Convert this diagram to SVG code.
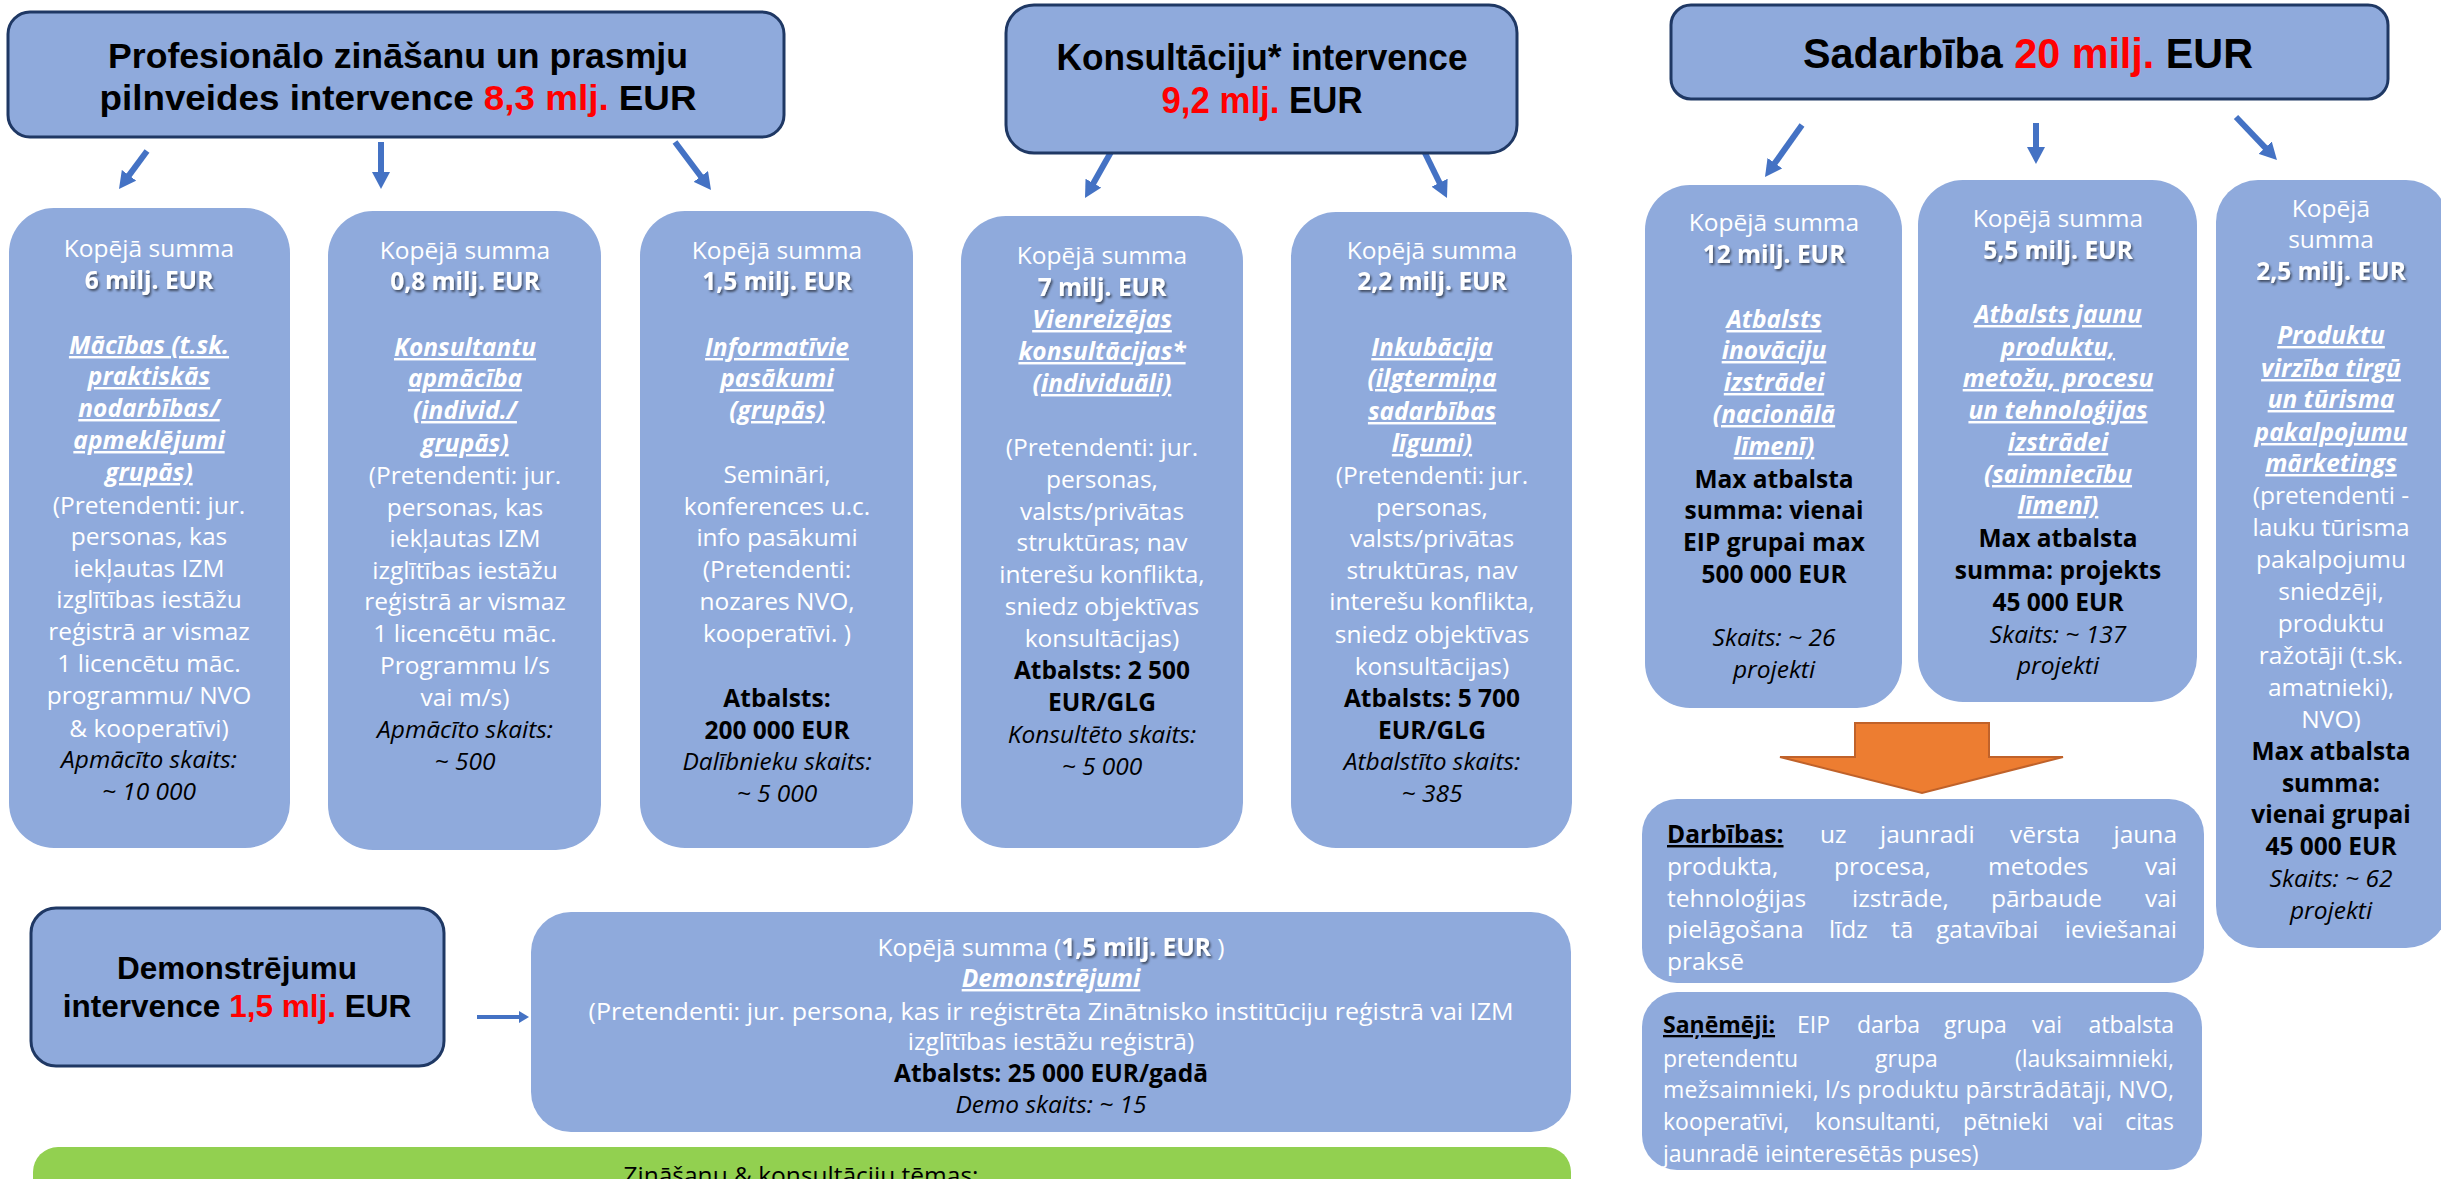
<svg xmlns="http://www.w3.org/2000/svg" width="2441" height="1179" viewBox="0 0 2441 1179">
<style>
.bx{fill:#8FAADC}
.hd{fill:#8FAADC;stroke:#1F3864;stroke-width:3}
.h{font-family:"Liberation Sans",Arial,sans-serif;font-weight:700;fill:#000;text-anchor:middle}
.red{fill:#FF0000}
.t{font-family:"Open Sans","Liberation Sans",sans-serif;font-size:24.5px;fill:#fff;text-anchor:middle}
.a{font-weight:700;filter:url(#sh)}
.u{font-weight:700;font-style:italic;text-decoration:underline}
.b{fill:#000;font-weight:700}
.i{fill:#000;font-style:italic}
.s{text-anchor:start}
.e{text-anchor:end}
.sm{font-size:23px}
.ar{stroke:#4472C4;stroke-width:6;fill:none;marker-end:url(#ah)}
.ar2{stroke:#4472C4;stroke-width:4;fill:none;marker-end:url(#ah2)}
</style>
<defs>
<marker id="ah" viewBox="0 0 17 18" refX="2" refY="9" markerWidth="17" markerHeight="18" markerUnits="userSpaceOnUse" orient="auto"><path d="M0,0 L17,9 L0,18 z" fill="#4472C4"/></marker>
<marker id="ah2" viewBox="0 0 10 12" refX="1" refY="6" markerWidth="10" markerHeight="12" markerUnits="userSpaceOnUse" orient="auto"><path d="M0,0 L10,6 L0,12 z" fill="#4472C4"/></marker>
<filter id="sh" x="-10%" y="-30%" width="130%" height="180%"><feDropShadow dx="1.5" dy="2" stdDeviation="1.2" flood-color="#000" flood-opacity="0.55"/></filter>
</defs>
<rect width="2441" height="1179" fill="#fff"/>

<g id="connectors">
<line class="ar" x1="147" y1="151" x2="127.9" y2="176.9"/>
<line class="ar" x1="381" y1="142" x2="381" y2="174"/>
<line class="ar" x1="675" y1="142" x2="702" y2="178"/>
<line class="ar" x1="1111" y1="152" x2="1092.4" y2="184.9"/>
<line class="ar" x1="1424" y1="151" x2="1440.4" y2="184.5"/>
<line class="ar" x1="1802" y1="125" x2="1773.7" y2="164.8"/>
<line class="ar" x1="2036" y1="123" x2="2036" y2="149"/>
<line class="ar" x1="2236" y1="117" x2="2266.6" y2="149.1"/>
<line class="ar2" x1="477" y1="1017" x2="520" y2="1017"/>
<polygon points="1855,723 1989,723 1989,757 2063,757 1922,793 1780,757 1855,757" fill="#ED7D31" stroke="#C0622A" stroke-width="2"/>
</g>

<g id="h-profesionalo">
<rect class="hd" x="8" y="12" width="776" height="125" rx="22"/>
<text class="h" x="398" y="68" font-size="35" textLength="580" lengthAdjust="spacingAndGlyphs">Profesionālo zināšanu un prasmju</text>
<text class="h" x="398" y="110" font-size="35" textLength="597" lengthAdjust="spacingAndGlyphs">pilnveides intervence <tspan class="red">8,3 mlj.</tspan> EUR</text>
</g>

<g id="h-konsultaciju">
<rect class="hd" x="1006" y="5" width="511" height="148" rx="28"/>
<text class="h" x="1262" y="70" font-size="37" textLength="411" lengthAdjust="spacingAndGlyphs">Konsultāciju* intervence</text>
<text class="h" x="1262" y="113" font-size="37" textLength="201" lengthAdjust="spacingAndGlyphs"><tspan class="red">9,2 mlj.</tspan> EUR</text>
</g>

<g id="h-sadarbiba">
<rect class="hd" x="1671" y="5" width="717" height="94" rx="20"/>
<text class="h" x="2028" y="68" font-size="42" textLength="450" lengthAdjust="spacingAndGlyphs">Sadarbība <tspan class="red">20 milj.</tspan> EUR</text>
</g>

<g id="n-macibas">
<rect class="bx" x="9" y="208" width="281" height="640" rx="45"/>
<text class="t" x="149" y="257">Kopējā summa</text>
<text class="t a" x="149" y="289">6 milj. EUR</text>
<text class="t u" x="149" y="354">Mācības (t.sk.</text>
<text class="t u" x="149" y="385">praktiskās</text>
<text class="t u" x="149" y="417">nodarbības/</text>
<text class="t u" x="149" y="449">apmeklējumi</text>
<text class="t u" x="149" y="481">grupās)</text>
<text class="t" x="149" y="514">(Pretendenti: jur.</text>
<text class="t" x="149" y="545">personas, kas</text>
<text class="t" x="149" y="577">iekļautas IZM</text>
<text class="t" x="149" y="608">izglītības iestāžu</text>
<text class="t" x="149" y="640">reģistrā ar vismaz</text>
<text class="t" x="149" y="672">1 licencētu māc.</text>
<text class="t" x="149" y="704">programmu/ NVO</text>
<text class="t" x="149" y="737">&amp; kooperatīvi)</text>
<text class="t i" x="149" y="768">Apmācīto skaits:</text>
<text class="t i" x="149" y="800">~ 10 000</text>
</g>

<g id="n-konsultantu">
<rect class="bx" x="328" y="211" width="273" height="639" rx="45"/>
<text class="t" x="465" y="259">Kopējā summa</text>
<text class="t a" x="465" y="290">0,8 milj. EUR</text>
<text class="t u" x="465" y="356">Konsultantu</text>
<text class="t u" x="465" y="387">apmācība</text>
<text class="t u" x="465" y="419">(individ./</text>
<text class="t u" x="465" y="452">grupās)</text>
<text class="t" x="465" y="484">(Pretendenti: jur.</text>
<text class="t" x="465" y="516">personas, kas</text>
<text class="t" x="465" y="547">iekļautas IZM</text>
<text class="t" x="465" y="579">izglītības iestāžu</text>
<text class="t" x="465" y="610">reģistrā ar vismaz</text>
<text class="t" x="465" y="642">1 licencētu māc.</text>
<text class="t" x="465" y="674">Programmu l/s</text>
<text class="t" x="465" y="706">vai m/s)</text>
<text class="t i" x="465" y="738">Apmācīto skaits:</text>
<text class="t i" x="465" y="770">~ 500</text>
</g>

<g id="n-informativie">
<rect class="bx" x="640" y="211" width="273" height="637" rx="45"/>
<text class="t" x="777" y="259">Kopējā summa</text>
<text class="t a" x="777" y="290">1,5 milj. EUR</text>
<text class="t u" x="777" y="356">Informatīvie</text>
<text class="t u" x="777" y="387">pasākumi</text>
<text class="t u" x="777" y="419">(grupās)</text>
<text class="t" x="777" y="483">Semināri,</text>
<text class="t" x="777" y="515">konferences u.c.</text>
<text class="t" x="777" y="546">info pasākumi</text>
<text class="t" x="777" y="578">(Pretendenti:</text>
<text class="t" x="777" y="610">nozares NVO,</text>
<text class="t" x="777" y="642">kooperatīvi. )</text>
<text class="t b" x="777" y="707">Atbalsts:</text>
<text class="t b" x="777" y="739">200 000 EUR</text>
<text class="t i" x="777" y="770">Dalībnieku skaits:</text>
<text class="t i" x="777" y="802">~ 5 000</text>
</g>

<g id="n-vienreizejas">
<rect class="bx" x="961" y="216" width="282" height="632" rx="45"/>
<text class="t" x="1102" y="264">Kopējā summa</text>
<text class="t a" x="1102" y="296">7 milj. EUR</text>
<text class="t u" x="1102" y="328">Vienreizējas</text>
<text class="t u" x="1102" y="360">konsultācijas*</text>
<text class="t u" x="1102" y="392">(individuāli)</text>
<text class="t" x="1102" y="456">(Pretendenti: jur.</text>
<text class="t" x="1102" y="488">personas,</text>
<text class="t" x="1102" y="520">valsts/privātas</text>
<text class="t" x="1102" y="551">struktūras; nav</text>
<text class="t" x="1102" y="583">interešu konflikta,</text>
<text class="t" x="1102" y="615">sniedz objektīvas</text>
<text class="t" x="1102" y="647">konsultācijas)</text>
<text class="t b" x="1102" y="679">Atbalsts: 2 500</text>
<text class="t b" x="1102" y="711">EUR/GLG</text>
<text class="t i" x="1102" y="743">Konsultēto skaits:</text>
<text class="t i" x="1102" y="775">~ 5 000</text>
</g>

<g id="n-inkubacija">
<rect class="bx" x="1291" y="212" width="281" height="636" rx="45"/>
<text class="t" x="1432" y="259">Kopējā summa</text>
<text class="t a" x="1432" y="290">2,2 milj. EUR</text>
<text class="t u" x="1432" y="356">Inkubācija</text>
<text class="t u" x="1432" y="387">(ilgtermiņa</text>
<text class="t u" x="1432" y="420">sadarbības</text>
<text class="t u" x="1432" y="452">līgumi)</text>
<text class="t" x="1432" y="484">(Pretendenti: jur.</text>
<text class="t" x="1432" y="516">personas,</text>
<text class="t" x="1432" y="547">valsts/privātas</text>
<text class="t" x="1432" y="579">struktūras, nav</text>
<text class="t" x="1432" y="610">interešu konflikta,</text>
<text class="t" x="1432" y="643">sniedz objektīvas</text>
<text class="t" x="1432" y="675">konsultācijas)</text>
<text class="t b" x="1432" y="707">Atbalsts: 5 700</text>
<text class="t b" x="1432" y="739">EUR/GLG</text>
<text class="t i" x="1432" y="770">Atbalstīto skaits:</text>
<text class="t i" x="1432" y="802">~ 385</text>
</g>

<g id="n-inovacijas">
<rect class="bx" x="1645" y="185" width="257" height="523" rx="45"/>
<text class="t" x="1774" y="231">Kopējā summa</text>
<text class="t a" x="1774" y="263">12 milj. EUR</text>
<text class="t u" x="1774" y="328">Atbalsts</text>
<text class="t u" x="1774" y="359">inovāciju</text>
<text class="t u" x="1774" y="391">izstrādei</text>
<text class="t u" x="1774" y="423">(nacionālā</text>
<text class="t u" x="1774" y="455">līmenī)</text>
<text class="t b" x="1774" y="488">Max atbalsta</text>
<text class="t b" x="1774" y="519">summa: vienai</text>
<text class="t b" x="1774" y="551">EIP grupai max</text>
<text class="t b" x="1774" y="583">500 000 EUR</text>
<text class="t i" x="1774" y="646">Skaits: ~ 26</text>
<text class="t i" x="1774" y="678">projekti</text>
</g>

<g id="n-produkti">
<rect class="bx" x="1918" y="180" width="279" height="522" rx="45"/>
<text class="t" x="2058" y="227">Kopējā summa</text>
<text class="t a" x="2058" y="259">5,5 milj. EUR</text>
<text class="t u" x="2058" y="323">Atbalsts jaunu</text>
<text class="t u" x="2058" y="356">produktu,</text>
<text class="t u" x="2058" y="387">metožu, procesu</text>
<text class="t u" x="2058" y="419">un tehnoloģijas</text>
<text class="t u" x="2058" y="451">izstrādei</text>
<text class="t u" x="2058" y="483">(saimniecību</text>
<text class="t u" x="2058" y="514">līmenī)</text>
<text class="t b" x="2058" y="547">Max atbalsta</text>
<text class="t b" x="2058" y="579">summa: projekts</text>
<text class="t b" x="2058" y="611">45 000 EUR</text>
<text class="t i" x="2058" y="643">Skaits: ~ 137</text>
<text class="t i" x="2058" y="674">projekti</text>
</g>

<g id="n-marketings">
<rect class="bx" x="2216" y="180" width="232" height="768" rx="42"/>
<text class="t" x="2331" y="217">Kopējā</text>
<text class="t" x="2331" y="248">summa</text>
<text class="t a" x="2331" y="280">2,5 milj. EUR</text>
<text class="t u" x="2331" y="344">Produktu</text>
<text class="t u" x="2331" y="377">virzība tirgū</text>
<text class="t u" x="2331" y="408">un tūrisma</text>
<text class="t u" x="2331" y="441">pakalpojumu</text>
<text class="t u" x="2331" y="472">mārketings</text>
<text class="t" x="2331" y="504">(pretendenti -</text>
<text class="t" x="2331" y="536">lauku tūrisma</text>
<text class="t" x="2331" y="568">pakalpojumu</text>
<text class="t" x="2331" y="600">sniedzēji,</text>
<text class="t" x="2331" y="632">produktu</text>
<text class="t" x="2331" y="664">ražotāji (t.sk.</text>
<text class="t" x="2331" y="696">amatnieki),</text>
<text class="t" x="2331" y="728">NVO)</text>
<text class="t b" x="2331" y="760">Max atbalsta</text>
<text class="t b" x="2331" y="792">summa:</text>
<text class="t b" x="2331" y="823">vienai grupai</text>
<text class="t b" x="2331" y="855">45 000 EUR</text>
<text class="t i" x="2331" y="887">Skaits: ~ 62</text>
<text class="t i" x="2331" y="919">projekti</text>
</g>

<g id="n-darbibas">
<rect class="bx" x="1642" y="799" width="562" height="184" rx="35"/>
<text class="t s b" x="1667" y="843" text-decoration="underline">Darbības:</text>
<text class="t s" x="1820" y="843">uz</text>
<text class="t s" x="1880" y="843">jaunradi</text>
<text class="t s" x="2010" y="843">vērsta</text>
<text class="t e" x="2177" y="843">jauna</text>
<text class="t s" x="1667" y="875">produkta,</text>
<text class="t s" x="1834" y="875">procesa,</text>
<text class="t s" x="1988" y="875">metodes</text>
<text class="t e" x="2177" y="875">vai</text>
<text class="t s" x="1667" y="907">tehnoloģijas</text>
<text class="t s" x="1852" y="907">izstrāde,</text>
<text class="t s" x="1991" y="907">pārbaude</text>
<text class="t e" x="2177" y="907">vai</text>
<text class="t s" x="1667" y="938">pielāgošana</text>
<text class="t s" x="1829" y="938">līdz</text>
<text class="t s" x="1891" y="938">tā</text>
<text class="t s" x="1936" y="938">gatavībai</text>
<text class="t e" x="2177" y="938">ieviešanai</text>
<text class="t s" x="1667" y="970">praksē</text>
</g>

<g id="n-sanemeji">
<rect class="bx" x="1642" y="992" width="560" height="178" rx="35"/>
<text class="t sm s b" x="1663" y="1033" text-decoration="underline">Saņēmēji:</text>
<text class="t sm s" x="1797" y="1033">EIP</text>
<text class="t sm s" x="1857" y="1033">darba</text>
<text class="t sm s" x="1944" y="1033">grupa</text>
<text class="t sm s" x="2032" y="1033">vai</text>
<text class="t sm e" x="2174" y="1033">atbalsta</text>
<text class="t sm s" x="1663" y="1067">pretendentu</text>
<text class="t sm s" x="1875" y="1067">grupa</text>
<text class="t sm e" x="2174" y="1067">(lauksaimnieki,</text>
<text class="t sm s" x="1663" y="1098" textLength="511" lengthAdjust="spacing">mežsaimnieki, l/s produktu pārstrādātāji, NVO,</text>
<text class="t sm s" x="1663" y="1130">kooperatīvi,</text>
<text class="t sm s" x="1815" y="1130">konsultanti,</text>
<text class="t sm s" x="1963" y="1130">pētnieki</text>
<text class="t sm s" x="2073" y="1130">vai</text>
<text class="t sm e" x="2174" y="1130">citas</text>
<text class="t sm s" x="1663" y="1162">jaunradē ieinteresētās puses)</text>
</g>

<g id="h-demonstrejumu">
<rect class="hd" x="31" y="908" width="413" height="158" rx="25"/>
<text class="h" x="237" y="979" font-size="31.5">Demonstrējumu</text>
<text class="h" x="237" y="1017" font-size="31.5">intervence <tspan class="red">1,5 mlj.</tspan> EUR</text>
</g>

<g id="n-demonstrejumi">
<rect class="bx" x="531" y="912" width="1040" height="220" rx="40"/>
<text class="t" x="1051" y="956">Kopējā summa (<tspan class="a">1,5 milj. EUR</tspan> )</text>
<text class="t u" x="1051" y="987">Demonstrējumi</text>
<text class="t" x="1051" y="1020" textLength="925" lengthAdjust="spacingAndGlyphs">(Pretendenti: jur. persona, kas ir reģistrēta Zinātnisko institūciju reģistrā vai IZM</text>
<text class="t" x="1051" y="1050">izglītības iestāžu reģistrā)</text>
<text class="t b" x="1051" y="1082">Atbalsts: 25 000 EUR/gadā</text>
<text class="t i" x="1051" y="1113">Demo skaits: ~ 15</text>
</g>

<g id="n-temas">
<rect x="33" y="1147" width="1538" height="70" rx="25" fill="#92D050"/>
<text class="t" x="801" y="1184" style="fill:#000">Zināšanu &amp; konsultāciju tēmas:</text>
</g>
</svg>
